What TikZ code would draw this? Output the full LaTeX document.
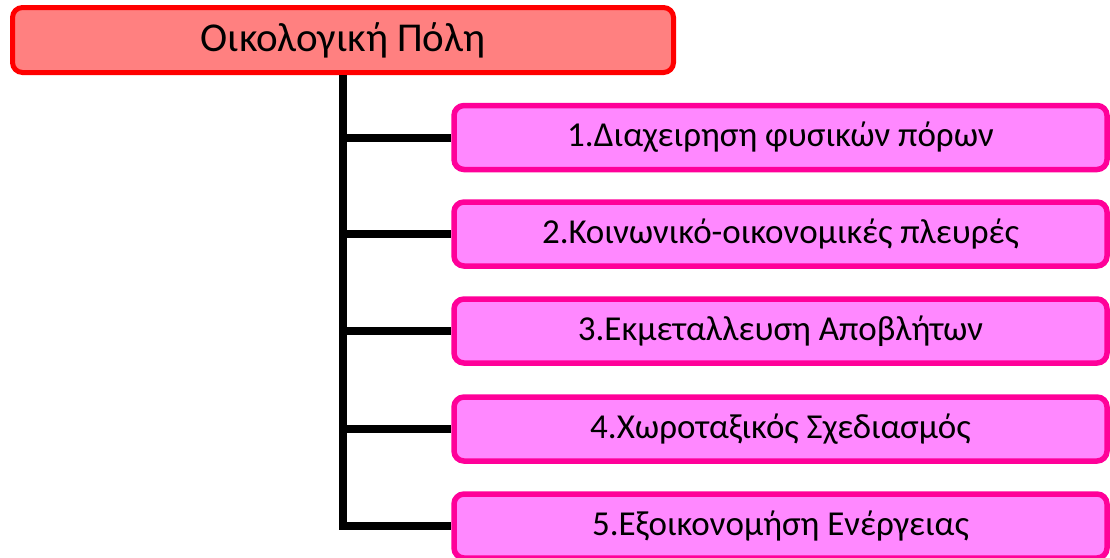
\documentclass[tikz,border=0pt]{standalone}
\usepackage{fontspec}
\setmainfont{Carlito}
\definecolor{rootfill}{HTML}{FF8080}
\definecolor{rootline}{HTML}{FF0000}
\definecolor{kidfill}{HTML}{FF88FF}
\definecolor{kidline}{HTML}{FF0099}
\tikzset{
  rootbox/.style={draw=rootline, fill=rootfill, line width=5pt, rounded corners=10pt,
    minimum width=661pt, minimum height=65pt, inner sep=0pt,
    font=\fontsize{41}{46}\selectfont},
  kidbox/.style={draw=kidline, fill=kidfill, line width=5.5pt, rounded corners=10pt,
    minimum width=653pt, minimum height=64pt, inner sep=0pt,
    font=\fontsize{35}{40}\selectfont},
  link/.style={line width=8pt, black}
}
\begin{document}
\begin{tikzpicture}[x=1pt,y=-1pt]
\useasboundingbox (0,0) rectangle (1110,557);
\node[rootbox] (root) at (343,40) {Οικολογική Πόλη};
\node[kidbox] (c1) at (780.5,137.5) {1.Διαχειρηση φυσικών πόρων};
\node[kidbox] (c2) at (780.5,234) {2.Κοινωνικό-οικονομικές πλευρές};
\node[kidbox] (c3) at (780.5,331) {3.Εκμεταλλευση Αποβλήτων};
\node[kidbox] (c4) at (780.5,429) {4.Χωροταξικός Σχεδιασμός};
\node[kidbox] (c5) at (780.5,526) {5.Εξοικονομήση Ενέργειας};
\draw[link] (root.south) |- (c5.west);
\draw[link] (root.south |- c1.west) -- (c1.west);
\draw[link] (root.south |- c2.west) -- (c2.west);
\draw[link] (root.south |- c3.west) -- (c3.west);
\draw[link] (root.south |- c4.west) -- (c4.west);
\end{tikzpicture}
\end{document}
